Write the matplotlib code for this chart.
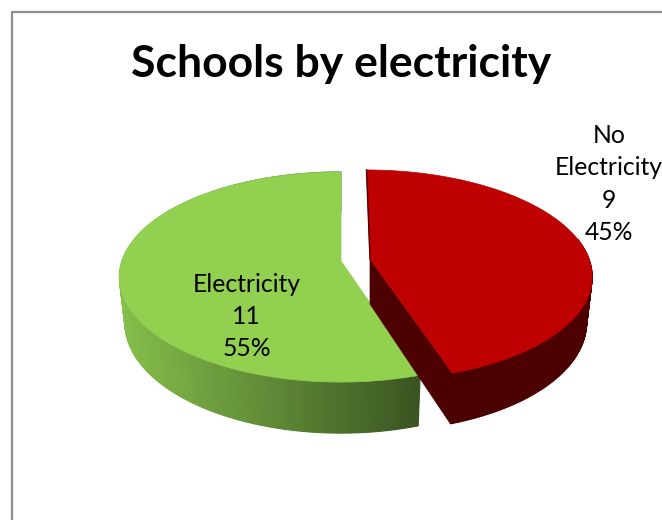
import numpy as np
from matplotlib import pyplot as plt
from matplotlib.colors import to_rgb
from matplotlib.patches import Polygon

categories = ["No\nElectricity", "Electricity"]
counts = [9, 11]
top_colors = ["#BE0000", "#92D050"]
title = "Schools by electricity"

# camera for the tilted disc, everything in image pixels
RADIUS_X = 219
RADIUS_Y = 102.6
TILT = 0.1524
DEPTH = 45


def project(t, apex, skew=0.0, lower=False):
    u, v = np.sin(t), -np.cos(t)
    den = 1 - TILT * v
    sx, sy, dz = (0.975, 1.05, DEPTH) if lower else (1.0, 1.0, 0.0)
    return apex[0] + (RADIUS_X * u / den + skew * v) * sx, apex[1] + RADIUS_Y * v / den * sy + dz


def mix(a, b, f):
    a, b = np.array(to_rgb(a)), np.array(to_rgb(b))
    return tuple(a + (b - a) * np.clip(f, 0, 1))


def draw_slice(ax, start, end, apex, top_color, side_left, side_right, x_range, skew=0.0, z=2):
    ts = np.linspace(start, end, 240)
    x_top, y_top = project(ts, apex, skew)
    x_low, y_low = project(ts, apex, skew, lower=True)
    front = ts >= np.pi / 2 - 0.2

    # solid wall underneath, so the seams between the strips don't show
    wall = np.column_stack([np.r_[x_top[front], x_low[front][::-1]], np.r_[y_top[front], y_low[front][::-1]]])
    ax.add_patch(Polygon(wall, fc=mix(side_left, side_right, 0.5), ec="none", zorder=z))

    # outer wall shading runs left to right
    for i in range(len(ts) - 1):
        if not front[i]:
            continue
        f = (x_top[i] - x_range[0]) / (x_range[1] - x_range[0])
        col = mix(side_left, side_right, f)
        quad = [(x_top[i], y_top[i]), (x_top[i + 1], y_top[i + 1]),
                (x_low[i + 1], y_low[i + 1]), (x_low[i], y_low[i])]
        ax.add_patch(Polygon(quad, fc=col, ec=col, lw=0.8, zorder=z))

    face = np.column_stack([np.r_[apex[0], x_top], np.r_[apex[1], y_top]])
    ax.add_patch(Polygon(face, fc=top_color, ec=top_color, lw=0.5, zorder=z + 1))


fig = plt.figure(figsize=(6.62, 5.2), dpi=100)
ax = fig.add_axes([0, 0, 1, 1])
ax.set_xlim(0, 662)
ax.set_ylim(520, 0)
ax.axis("off")

# chart frame, cropped on the right and at the bottom
ax.plot([11.5, 11.5, 662], [520, 11.5, 11.5], color="#8E8E8E", lw=1.6, zorder=1)

total = sum(counts)
edges = np.r_[0, np.cumsum(counts)] / total * 2 * np.pi

# electricity first, the red slice sits in front of it
green_apex = (341, 261)
red_apex = (370, 259)
red_skew = 3.5
draw_slice(ax, edges[1], edges[2], green_apex, top_colors[1], "#86BF4C", "#3A5522", (119, 420))

# cut face of the red slice
xe, ye = project(edges[1], red_apex, red_skew)
xl, yl = project(edges[1], red_apex, red_skew, lower=True)
cut = [red_apex, (xe, ye), (xl, yl), (red_apex[0], red_apex[1] + DEPTH)]
ax.add_patch(Polygon(cut, fc="#4D0000", ec="#4D0000", lw=0.5, zorder=4))

draw_slice(ax, edges[0], edges[1], red_apex, top_colors[0], "#4E0000", "#4A0000", (594, 453), skew=red_skew, z=5)
x0, y0 = project(edges[0], red_apex, red_skew)
ax.plot([x0, red_apex[0]], [y0, red_apex[1]], color="#4D0000", lw=1.0, zorder=7)

for name, n, x, y in zip(categories, counts, [609, 246.5], [184, 316.5]):
    pct = round(100 * n / total)
    ax.text(x, y, f"{name}\n{n}\n{pct}%", ha="center", va="center", fontsize=17.8,
            family="Lato", linespacing=1.48, color="black", zorder=8)

ax.text(341, 64, title, ha="center", va="center", fontsize=32, family="Lato",
        fontweight="bold", color="black", zorder=8)

plt.savefig("out.png", dpi=100)
plt.close(fig)
